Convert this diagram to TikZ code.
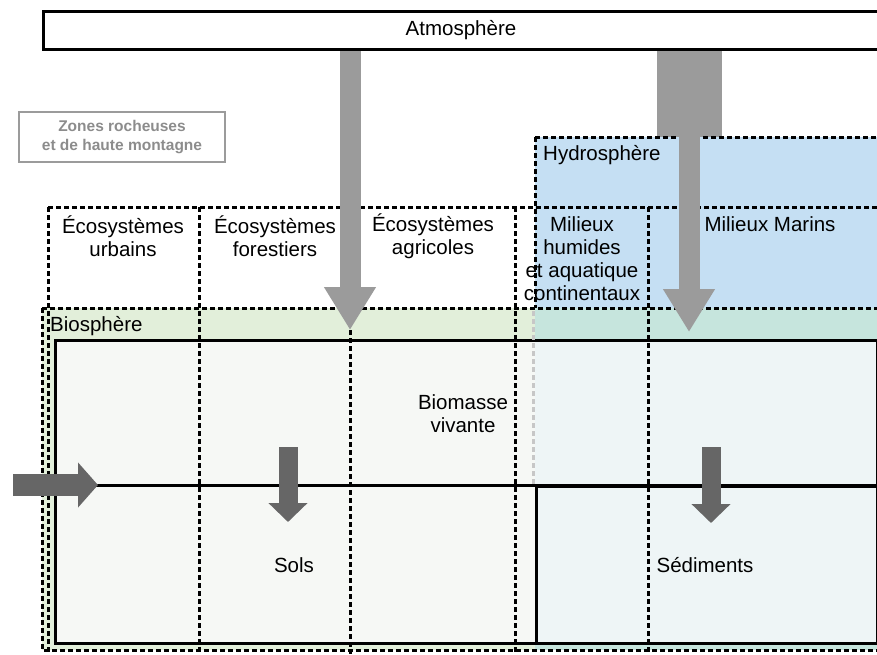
\documentclass[tikz,border=0pt]{standalone}
\usepackage{fontspec}
\setmainfont{Liberation Sans}
\usepackage{tikz}
\usetikzlibrary{arrows.meta}
\definecolor{biogreen}{HTML}{E2EFDA}
\definecolor{hydroblue}{HTML}{C5DFF3}
\definecolor{mixteal}{HTML}{C6E5DD}
\definecolor{soilgray}{HTML}{F6F8F5}
\definecolor{seabed}{HTML}{EEF5F6}
\definecolor{fluxgray}{HTML}{9B9B9B}
\definecolor{transgray}{HTML}{666666}
\definecolor{rockgray}{HTML}{8C8C8C}
\tikzstyle{zonebox} = [dash pattern=on 5pt off 3pt, line width=3pt]
\tikzstyle{solidbox} = [draw, line width=3pt, inner sep=0pt, anchor=north west]
\tikzstyle{txt} = [font=\fontsize{20.5}{23}\selectfont, align=center, inner sep=0pt]
\tikzstyle{flux} = [line width=21pt, draw=fluxgray, -{Triangle[width=49pt,length=43pt]}]
\tikzstyle{transfer} = [line width=19pt, draw=transgray, -{Triangle[width=38pt,length=19pt]}]

\begin{document}
\begin{tikzpicture}[x=1pt, y=-1pt]
\useasboundingbox (0,0) rectangle (877,654);

% fonds
\fill[biogreen] (42,308) rectangle (877,650);
\fill[mixteal] (535,308) rectangle (877,650);
\fill[fluxgray] (657,48) rectangle (722,140);
\fill[hydroblue] (535,137) rectangle (877,308);

\node (atmo) [solidbox, fill=white, minimum width=840pt, minimum height=38pt] at (42,10) {};
\node (atmotxt) [txt] at (461,30) {Atmosphère};

\node (rock) [draw=fluxgray, line width=2.6pt, minimum width=206pt, minimum height=50pt, inner sep=0pt] at (122,137) {};
\node (rocktxt) [align=center, text=rockgray, font=\fontsize{15.5}{19}\selectfont\bfseries] at (122,137) {Zones rocheuses\\et de haute montagne};

% compartiments
\fill[soilgray] (54,339) rectangle (535,642);
\fill[seabed] (535,339) rectangle (876,642);
\node (biomasse) [solidbox, minimum width=822pt, minimum height=303pt] at (54,339) {};
\draw[line width=3pt] (biomasse.west |- 0,485) -- (biomasse.east |- 0,485);
\node (sedbox) [solidbox, minimum width=341pt, minimum height=157pt] at (535,485) {};

% zones en pointilles
\draw[zonebox] (48,207) -- (880,207);
\draw[zonebox] (42,308) -- (880,308);
\draw[zonebox] (535,137) -- (880,137);
\draw[zonebox] (535,137) -- (535,308);
\draw[zonebox, draw=black!22] (533,311) -- (533,485);
\draw[zonebox] (42,308) -- (42,650) -- (880,650);
\draw[zonebox] (48,207) -- (48,654);
\draw[zonebox] (199,207) -- (199,654);
\draw[zonebox] (350,330) -- (350,654);
\draw[zonebox] (515,207) -- (515,654);
\draw[zonebox] (648,207) -- (648,654);

% textes
\node (hydro) [txt, anchor=west] at (543,155) {Hydrosphère};
\node (bio) [txt, anchor=west] at (50,326) {Biosphère};
\node (urb) [txt] at (123,236) {Écosystèmes\\urbains};
\node (for) [txt] at (275,236) {Écosystèmes\\forestiers};
\node (agr) [txt] at (433,236) {Écosystèmes\\agricoles};
\node (hum) [txt] at (582,259) {Milieux\\humides\\et aquatique\\continentaux};
\node (mar) [txt] at (770,224) {Milieux Marins};
\node (viv) [txt] at (463,414) {Biomasse\\vivante};
\node (sols) [txt] at (294,565) {Sols};
\node (sed) [txt] at (705,565) {Sédiments};

% flux
\coordinate (tip1) at (350,330);
\coordinate (tip2) at (689,332);
\draw [flux] (tip1 |- atmo.south) -- (tip1);
\draw [flux] (tip2 |- atmo.south) -- (tip2);

\coordinate (inlet) at (13,485);
\coordinate (intip) at (98,485);
\draw [transfer, line width=22pt, -{Triangle[width=44pt,length=20pt]}] (inlet) -- (intip);
\coordinate (soltop) at (288,447);
\coordinate (soltip) at (288,522);
\draw [transfer] (soltop) -- (soltip);
\coordinate (sedtop) at (711,447);
\coordinate (sedtip) at (711,523);
\draw [transfer] (sedtop) -- (sedtip);
\end{tikzpicture}
\end{document}
